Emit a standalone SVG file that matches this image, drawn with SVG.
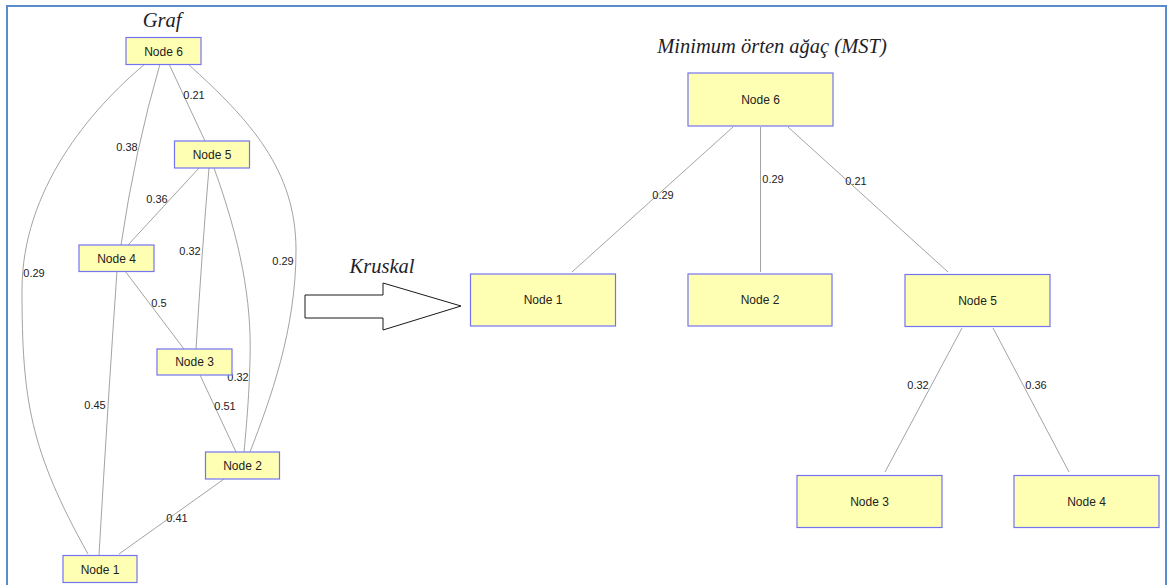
<svg xmlns="http://www.w3.org/2000/svg" width="1169" height="585" viewBox="0 0 1169 585">
  <style>
    .frame { fill: #ffffff; stroke: #5a8ccc; stroke-width: 2; }
    .node rect { fill: #ffffb4; stroke: #7373f2; stroke-width: 1.2; }
    .node text { font-family: "Liberation Sans", Arial, sans-serif; font-size: 12px; fill: #222; text-anchor: middle; }
    .edge { fill: none; stroke: #a3a3a3; stroke-width: 1; }
    .wt { font-family: "Liberation Sans", Arial, sans-serif; font-size: 11px; fill: #222; text-anchor: middle; }
    .title { font-family: "Liberation Serif", "Times New Roman", serif; font-style: italic; font-size: 20.5px; fill: #1e1e2a; text-anchor: middle; }
  </style>

  <!-- page frame -->
  <rect class="frame" x="7" y="6" width="1159" height="600"/>

  <!-- titles -->
  <text class="title" x="162" y="27">Graf</text>
  <text class="title" x="382" y="273">Kruskal</text>
  <text class="title" x="772" y="53">Minimum örten ağaç (MST)</text>

  <!-- block arrow between the two drawings -->
  <polygon points="305,295 383,295 383,283 461,306 383,330 383,318 305,318" fill="#ffffff" stroke="#1a1a1a" stroke-width="1"/>

  <!-- connectors -->
  <g id="connectors">
    <!-- left graph -->
    <path class="edge" d="M145,64 C90,110 22,190 22,290 C22,400 30,450 88,554"/>
    <path class="edge" d="M160,64 Q135,150 121,245"/>
    <path class="edge" d="M169,64 L205,141"/>
    <path class="edge" d="M188,64 C250,120 296,170 296,250 C296,330 270,400 250,452"/>
    <path class="edge" d="M199,168 L128,245"/>
    <path class="edge" d="M209,168 Q202,250 196,349"/>
    <path class="edge" d="M214,168 C240,240 252,300 250,360 C249,400 246,430 244,452"/>
    <path class="edge" d="M125,271 L184,349"/>
    <path class="edge" d="M117,271 Q108,400 99,555"/>
    <path class="edge" d="M200,375 L236,452"/>
    <path class="edge" d="M224,479 L119,554"/>

    <text class="wt" x="194" y="98.5">0.21</text>
    <text class="wt" x="127" y="151">0.38</text>
    <text class="wt" x="157" y="203">0.36</text>
    <text class="wt" x="34" y="276.5">0.29</text>
    <text class="wt" x="190" y="254.5">0.32</text>
    <text class="wt" x="283" y="264.5">0.29</text>
    <text class="wt" x="159" y="307">0.5</text>
    <text class="wt" x="238" y="380.5">0.32</text>
    <text class="wt" x="95" y="408.5">0.45</text>
    <text class="wt" x="225" y="409.5">0.51</text>
    <text class="wt" x="177" y="522">0.41</text>

    <!-- spanning tree -->
    <path class="edge" d="M733,127 L572,272"/>
    <path class="edge" d="M760.5,127 L760.5,272"/>
    <path class="edge" d="M788,127 L948,272"/>
    <path class="edge" d="M962,328 L885,472"/>
    <path class="edge" d="M993,328 L1069,472"/>

    <text class="wt" x="663" y="199">0.29</text>
    <text class="wt" x="773" y="183">0.29</text>
    <text class="wt" x="856" y="185">0.21</text>
    <text class="wt" x="918" y="389">0.32</text>
    <text class="wt" x="1036" y="389">0.36</text>
  </g>

  <!-- left graph nodes -->
  <g id="g-node6" class="node"><rect x="126" y="37.5" width="75" height="27"/><text x="163.5" y="55.5">Node 6</text></g>
  <g id="g-node5" class="node"><rect x="174.5" y="141" width="75" height="27"/><text x="212" y="159">Node 5</text></g>
  <g id="g-node4" class="node"><rect x="79" y="245" width="75" height="26.5"/><text x="116.5" y="262.5">Node 4</text></g>
  <g id="g-node3" class="node"><rect x="157" y="349" width="75" height="26"/><text x="194.5" y="366">Node 3</text></g>
  <g id="g-node2" class="node"><rect x="205.5" y="452" width="74" height="27"/><text x="242.5" y="470">Node 2</text></g>
  <g id="g-node1" class="node"><rect x="63" y="555.5" width="74" height="27"/><text x="100" y="573.5">Node 1</text></g>

  <!-- spanning tree nodes -->
  <g id="t-node6" class="node"><rect x="688" y="73" width="145" height="53"/><text x="760.5" y="103.5">Node 6</text></g>
  <g id="t-node1" class="node"><rect x="470.5" y="274" width="145" height="52"/><text x="543" y="304">Node 1</text></g>
  <g id="t-node2" class="node"><rect x="688" y="274" width="144" height="52"/><text x="760" y="304">Node 2</text></g>
  <g id="t-node5" class="node"><rect x="905" y="274.5" width="145" height="52"/><text x="977.5" y="304.5">Node 5</text></g>
  <g id="t-node3" class="node"><rect x="797" y="475.5" width="145" height="52"/><text x="869.5" y="505.5">Node 3</text></g>
  <g id="t-node4" class="node"><rect x="1014" y="475.5" width="145" height="52"/><text x="1086.5" y="505.5">Node 4</text></g>
</svg>
